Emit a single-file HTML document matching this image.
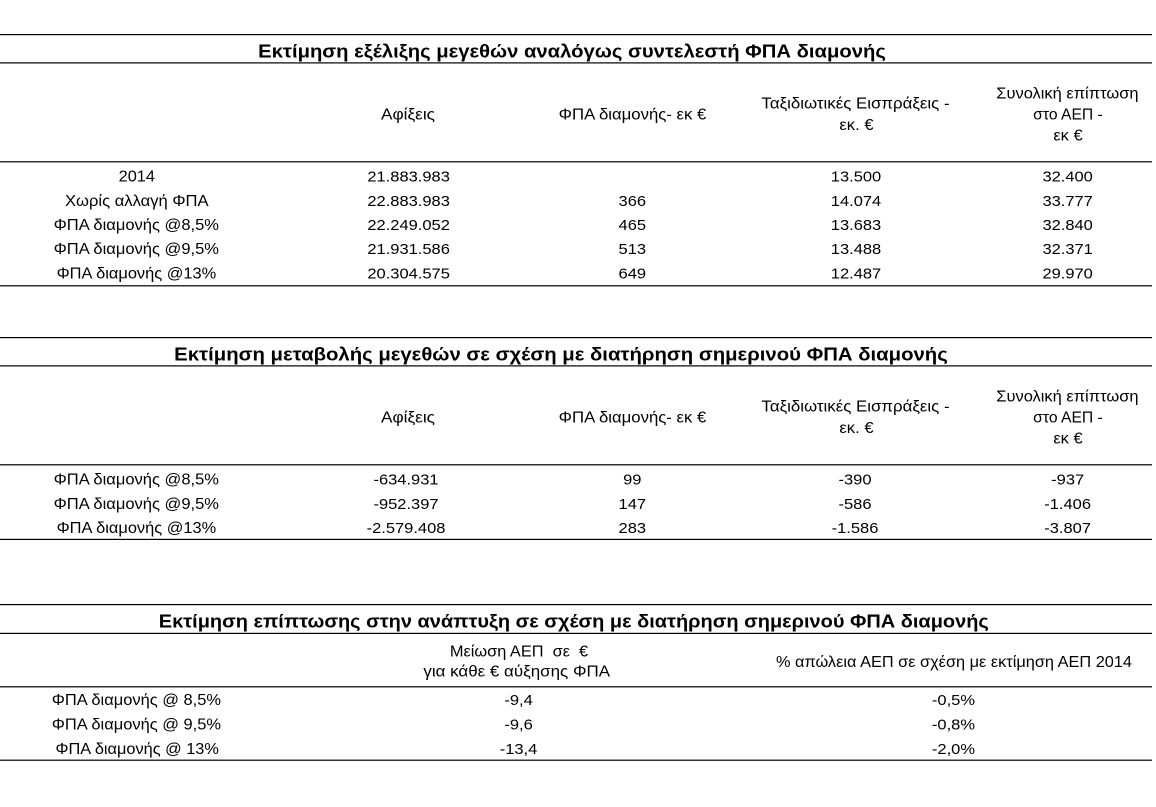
<!DOCTYPE html>
<html>
<head>
<meta charset="utf-8">
<style>
  html, body { margin:0; padding:0; background:#ffffff; }
  svg { display:block; }
  text { font-family: "Liberation Sans", "DejaVu Sans", sans-serif; fill:#000; }
  .t { font-size:18.5px; font-weight:bold; }
  .b { font-size:15px; }
  .l { font-size:15.5px; }
</style>
</head>
<body>
<svg width="1156" height="807" viewBox="0 0 1156 807" xmlns="http://www.w3.org/2000/svg">
  <rect x="0" y="0" width="1156" height="807" fill="#fff"/>

  <!-- Lines -->
  <g fill="#000">
    <rect x="0" y="34" width="1152" height="1.2"/>
    <rect x="0" y="62.3" width="1152" height="1.2"/>
    <rect x="0" y="161.2" width="1152" height="1.2"/>
    <rect x="0" y="285.2" width="1152" height="1.2"/>

    <rect x="0" y="337" width="1152" height="1.2"/>
    <rect x="0" y="365.3" width="1152" height="1.2"/>
    <rect x="0" y="464.2" width="1152" height="1.2"/>
    <rect x="0" y="538.8" width="1152" height="1.2"/>

    <rect x="0" y="604" width="1152" height="1.2"/>
    <rect x="0" y="632.8" width="1152" height="1.2"/>
    <rect x="0" y="686.2" width="1152" height="1.2"/>
    <rect x="0" y="759.6" width="1152" height="1.2"/>
  </g>

  <!-- Titles -->
  <text class="t" x="572" y="57.3" text-anchor="middle" textLength="627.7" lengthAdjust="spacingAndGlyphs">Εκτίμηση εξέλιξης μεγεθών αναλόγως συντελεστή ΦΠΑ διαμονής</text>
  <text class="t" x="561" y="360.3" text-anchor="middle" textLength="773.6" lengthAdjust="spacingAndGlyphs">Εκτίμηση μεταβολής μεγεθών σε σχέση με διατήρηση σημερινού ΦΠΑ διαμονής</text>
  <text class="t" x="573.8" y="627.3" text-anchor="middle" textLength="830" lengthAdjust="spacingAndGlyphs">Εκτίμηση επίπτωσης στην ανάπτυξη σε σχέση με διατήρηση σημερινού ΦΠΑ διαμονής</text>

  <!-- Section 1 header -->
  <g text-anchor="middle">
    <text class="l" x="408" y="119.3" textLength="54" lengthAdjust="spacingAndGlyphs">Αφίξεις</text>
    <text class="l" x="632.5" y="119.3" textLength="147.6" lengthAdjust="spacingAndGlyphs">ΦΠΑ διαμονής- εκ €</text>
    <text class="l" x="855.5" y="108.3" textLength="188.2" lengthAdjust="spacingAndGlyphs">Ταξιδιωτικές Εισπράξεις -</text>
    <text class="l" x="856.5" y="130" textLength="34.2" lengthAdjust="spacingAndGlyphs">εκ. €</text>
    <text class="l" x="1067.4" y="98.3" textLength="142.2" lengthAdjust="spacingAndGlyphs">Συνολική επίπτωση</text>
    <text class="l" x="1068" y="119.3" textLength="69.6" lengthAdjust="spacingAndGlyphs">στο ΑΕΠ -</text>
    <text class="l" x="1068" y="140.5" textLength="29.3" lengthAdjust="spacingAndGlyphs">εκ €</text>
  </g>

  <!-- Section 1 row labels -->
  <g text-anchor="middle">
    <text class="l" x="136.8" y="181.7" textLength="36.4" lengthAdjust="spacingAndGlyphs">2014</text>
    <text class="l" x="136.8" y="205.8" textLength="143.6" lengthAdjust="spacingAndGlyphs">Χωρίς αλλαγή ΦΠΑ</text>
    <text class="l" x="136.3" y="230" textLength="165.4" lengthAdjust="spacingAndGlyphs">ΦΠΑ διαμονής @8,5%</text>
    <text class="l" x="136.3" y="254.2" textLength="165.4" lengthAdjust="spacingAndGlyphs">ΦΠΑ διαμονής @9,5%</text>
    <text class="l" x="136.4" y="278.3" textLength="159.6" lengthAdjust="spacingAndGlyphs">ΦΠΑ διαμονής @13%</text>
  </g>

  <!-- Section 1 numbers -->
  <g transform="scale(1.1 1)" text-anchor="middle">
    <text class="b" x="371.5" y="181.7">21.883.983</text>
    <text class="b" x="371.5" y="205.8">22.883.983</text>
    <text class="b" x="371.5" y="230">22.249.052</text>
    <text class="b" x="371.5" y="254.2">21.931.586</text>
    <text class="b" x="371.5" y="278.3">20.304.575</text>

    <text class="b" x="574.8" y="205.8">366</text>
    <text class="b" x="574.8" y="230">465</text>
    <text class="b" x="574.8" y="254.2">513</text>
    <text class="b" x="574.8" y="278.3">649</text>

    <text class="b" x="778.2" y="181.7">13.500</text>
    <text class="b" x="778.2" y="205.8">14.074</text>
    <text class="b" x="778.2" y="230">13.683</text>
    <text class="b" x="778.2" y="254.2">13.488</text>
    <text class="b" x="778.2" y="278.3">12.487</text>

    <text class="b" x="970.6" y="181.7">32.400</text>
    <text class="b" x="970.6" y="205.8">33.777</text>
    <text class="b" x="970.6" y="230">32.840</text>
    <text class="b" x="970.6" y="254.2">32.371</text>
    <text class="b" x="970.6" y="278.3">29.970</text>
  </g>

  <!-- Section 2 header -->
  <g text-anchor="middle">
    <text class="l" x="408" y="422.3" textLength="54" lengthAdjust="spacingAndGlyphs">Αφίξεις</text>
    <text class="l" x="632.5" y="422.3" textLength="147.6" lengthAdjust="spacingAndGlyphs">ΦΠΑ διαμονής- εκ €</text>
    <text class="l" x="855.5" y="411.3" textLength="188.2" lengthAdjust="spacingAndGlyphs">Ταξιδιωτικές Εισπράξεις -</text>
    <text class="l" x="856.5" y="433" textLength="34.2" lengthAdjust="spacingAndGlyphs">εκ. €</text>
    <text class="l" x="1067.4" y="401.3" textLength="142.2" lengthAdjust="spacingAndGlyphs">Συνολική επίπτωση</text>
    <text class="l" x="1068" y="422.3" textLength="69.6" lengthAdjust="spacingAndGlyphs">στο ΑΕΠ -</text>
    <text class="l" x="1068" y="443.5" textLength="29.3" lengthAdjust="spacingAndGlyphs">εκ €</text>
  </g>

  <!-- Section 2 row labels -->
  <g text-anchor="middle">
    <text class="l" x="136.3" y="484.7" textLength="165.4" lengthAdjust="spacingAndGlyphs">ΦΠΑ διαμονής @8,5%</text>
    <text class="l" x="136.3" y="508.8" textLength="165.4" lengthAdjust="spacingAndGlyphs">ΦΠΑ διαμονής @9,5%</text>
    <text class="l" x="136.4" y="533" textLength="159.6" lengthAdjust="spacingAndGlyphs">ΦΠΑ διαμονής @13%</text>
  </g>

  <!-- Section 2 numbers -->
  <g transform="scale(1.1 1)" text-anchor="middle">
    <text class="b" x="369.1" y="484.7">-634.931</text>
    <text class="b" x="369.1" y="508.8">-952.397</text>
    <text class="b" x="369.1" y="533">-2.579.408</text>

    <text class="b" x="574.8" y="484.7">99</text>
    <text class="b" x="574.8" y="508.8">147</text>
    <text class="b" x="574.8" y="533">283</text>

    <text class="b" x="777.3" y="484.7">-390</text>
    <text class="b" x="777.3" y="508.8">-586</text>
    <text class="b" x="777.3" y="533">-1.586</text>

    <text class="b" x="970.6" y="484.7">-937</text>
    <text class="b" x="970.6" y="508.8">-1.406</text>
    <text class="b" x="970.6" y="533">-3.807</text>
  </g>

  <!-- Section 3 header -->
  <g text-anchor="middle">
    <text class="l" x="519" y="656.7" textLength="138.3" lengthAdjust="spacingAndGlyphs" xml:space="preserve">Μείωση ΑΕΠ  σε  €</text>
    <text class="l" x="516.7" y="676.7" textLength="186.7" lengthAdjust="spacingAndGlyphs">για κάθε € αύξησης ΦΠΑ</text>
    <text class="l" x="954" y="667" textLength="356" lengthAdjust="spacingAndGlyphs">% απώλεια ΑΕΠ σε σχέση με εκτίμηση ΑΕΠ 2014</text>
  </g>

  <!-- Section 3 row labels -->
  <g text-anchor="middle">
    <text class="l" x="136.4" y="705" textLength="169.3" lengthAdjust="spacingAndGlyphs">ΦΠΑ διαμονής @ 8,5%</text>
    <text class="l" x="136.4" y="729.5" textLength="169.3" lengthAdjust="spacingAndGlyphs">ΦΠΑ διαμονής @ 9,5%</text>
    <text class="l" x="137.2" y="754" textLength="163.4" lengthAdjust="spacingAndGlyphs">ΦΠΑ διαμονής @ 13%</text>
  </g>

  <!-- Section 3 numbers -->
  <g transform="scale(1.1 1)" text-anchor="middle">
    <text class="b" x="471.4" y="705">-9,4</text>
    <text class="b" x="471.4" y="729.5">-9,6</text>
    <text class="b" x="471.4" y="754">-13,4</text>

    <text class="b" x="866.8" y="705">-0,5%</text>
    <text class="b" x="866.8" y="729.5">-0,8%</text>
    <text class="b" x="866.8" y="754">-2,0%</text>
  </g>
</svg>
</body>
</html>
